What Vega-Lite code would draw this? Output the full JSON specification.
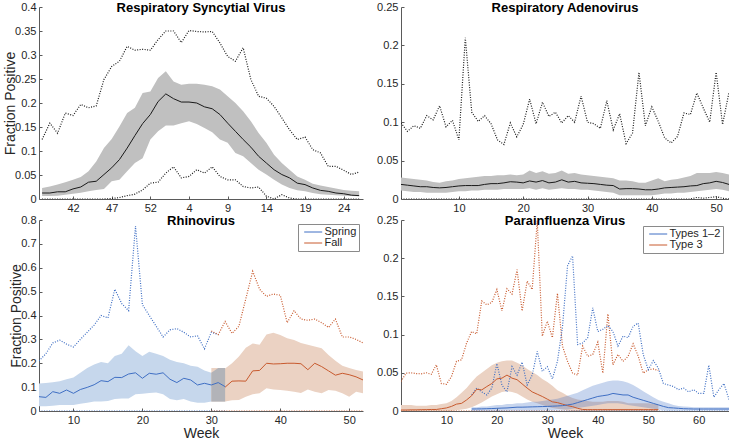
{
"$schema": "https://vega.github.io/schema/vega-lite/v6.json",
"background": "white",
"padding": {"left": 3, "top": 1, "right": 0, "bottom": 0},
"columns": 2,
"spacing": {"row": 21, "column": 38},
"bounds": "flush",
"resolve": {"scale": {"x": "independent", "y": "independent", "color": "independent"}, "legend": {"color": "independent"}},
"config": {
  "font": "Liberation Sans",
  "view": {"stroke": null},
  "axis": {"grid": false, "domainColor": "#5a5a5a", "domainWidth": 1, "tickColor": "#5a5a5a", "tickSize": -3, "labelFontSize": 11, "labelColor": "#262626", "labelPadding": 6, "labelFlush": false, "labelOverlap": false, "titleFontSize": 14, "titleFontWeight": "normal", "titleColor": "#262626", "titlePadding": 2},
  "axisX": {"labelPadding": 6, "titlePadding": 1},
  "axisY": {"titlePadding": -3},
  "title": {"fontSize": 13, "fontWeight": "bold", "color": "#000000", "offset": -14, "frame": "group", "anchor": "middle"},
  "legend": {"orient": "top-right", "offset": 4, "symbolType": "M-0.4,0H3.6", "symbolSize": 81, "symbolStrokeWidth": 1, "labelFontSize": 11, "labelColor": "#262626", "strokeColor": "#8a8a8a", "fillColor": "white", "padding": 2.5, "rowPadding": -2, "labelOffset": 13}
},
"datasets": {
"rsv": [
{"t":38,"mean":0.0125,"lo":0.006,"hi":0.023,"max":0.124,"min":0},
{"t":39,"mean":0.0125,"lo":0.006,"hi":0.026,"max":0.158,"min":0},
{"t":40,"mean":0.015,"lo":0.007,"hi":0.03,"max":0.137,"min":0},
{"t":41,"mean":0.015,"lo":0.009,"hi":0.035,"max":0.179,"min":0},
{"t":42,"mean":0.021,"lo":0.011,"hi":0.04,"max":0.174,"min":0},
{"t":43,"mean":0.025,"lo":0.013,"hi":0.046,"max":0.197,"min":0},
{"t":44,"mean":0.035,"lo":0.016,"hi":0.058,"max":0.19,"min":0},
{"t":45,"mean":0.037,"lo":0.019,"hi":0.078,"max":0.194,"min":0},
{"t":46,"mean":0.051,"lo":0.021,"hi":0.106,"max":0.249,"min":0},
{"t":47,"mean":0.065,"lo":0.037,"hi":0.125,"max":0.276,"min":0.001},
{"t":48,"mean":0.082,"lo":0.04,"hi":0.151,"max":0.287,"min":0.003},
{"t":49,"mean":0.106,"lo":0.058,"hi":0.179,"max":0.318,"min":0.007},
{"t":50,"mean":0.132,"lo":0.075,"hi":0.19,"max":0.31,"min":0.01},
{"t":51,"mean":0.157,"lo":0.085,"hi":0.221,"max":0.312,"min":0.019},
{"t":52,"mean":0.176,"lo":0.124,"hi":0.224,"max":0.31,"min":0.033},
{"t":53,"mean":0.203,"lo":0.141,"hi":0.252,"max":0.332,"min":0.035},
{"t":54,"mean":0.219,"lo":0.153,"hi":0.266,"max":0.35,"min":0.054},
{"t":55,"mean":0.209,"lo":0.153,"hi":0.245,"max":0.35,"min":0.067},
{"t":56,"mean":0.202,"lo":0.158,"hi":0.238,"max":0.326,"min":0.044},
{"t":57,"mean":0.202,"lo":0.162,"hi":0.24,"max":0.351,"min":0.047},
{"t":58,"mean":0.2,"lo":0.156,"hi":0.24,"max":0.349,"min":0.061},
{"t":59,"mean":0.192,"lo":0.148,"hi":0.238,"max":0.348,"min":0.054},
{"t":60,"mean":0.188,"lo":0.139,"hi":0.235,"max":0.349,"min":0.067},
{"t":61,"mean":0.176,"lo":0.124,"hi":0.228,"max":0.325,"min":0.047},
{"t":62,"mean":0.158,"lo":0.117,"hi":0.214,"max":0.297,"min":0.04},
{"t":63,"mean":0.141,"lo":0.096,"hi":0.2,"max":0.287,"min":0.04},
{"t":64,"mean":0.124,"lo":0.089,"hi":0.183,"max":0.315,"min":0.026},
{"t":65,"mean":0.108,"lo":0.075,"hi":0.162,"max":0.249,"min":0.023},
{"t":66,"mean":0.089,"lo":0.061,"hi":0.1375,"max":0.214,"min":0.025},
{"t":67,"mean":0.075,"lo":0.051,"hi":0.117,"max":0.21,"min":0.006},
{"t":68,"mean":0.061,"lo":0.04,"hi":0.092,"max":0.193,"min":0},
{"t":69,"mean":0.051,"lo":0.03,"hi":0.075,"max":0.169,"min":0.009},
{"t":70,"mean":0.044,"lo":0.023,"hi":0.061,"max":0.144,"min":0.002},
{"t":71,"mean":0.033,"lo":0.018,"hi":0.047,"max":0.124,"min":0},
{"t":72,"mean":0.03,"lo":0.016,"hi":0.04,"max":0.129,"min":0},
{"t":73,"mean":0.023,"lo":0.0125,"hi":0.032,"max":0.103,"min":0},
{"t":74,"mean":0.018,"lo":0.01,"hi":0.028,"max":0.096,"min":0},
{"t":75,"mean":0.016,"lo":0.009,"hi":0.025,"max":0.068,"min":0},
{"t":76,"mean":0.0125,"lo":0.008,"hi":0.022,"max":0.068,"min":0},
{"t":77,"mean":0.011,"lo":0.007,"hi":0.019,"max":0.06,"min":0},
{"t":78,"mean":0.008,"lo":0.006,"hi":0.017,"max":0.051,"min":0},
{"t":79,"mean":0.007,"lo":0.0056,"hi":0.016,"max":0.056,"min":0}
],
"adeno": [
{"week":1,"mean":0.019,"lo":0.011,"hi":0.028,"max":0.099,"min":0},
{"week":2,"mean":0.018,"lo":0.01,"hi":0.027,"max":0.088,"min":0},
{"week":3,"mean":0.017,"lo":0.009,"hi":0.026,"max":0.0955,"min":0},
{"week":4,"mean":0.016,"lo":0.009,"hi":0.025,"max":0.092,"min":0},
{"week":5,"mean":0.016,"lo":0.008,"hi":0.024,"max":0.1085,"min":0},
{"week":6,"mean":0.015,"lo":0.008,"hi":0.022,"max":0.103,"min":0},
{"week":7,"mean":0.0145,"lo":0.008,"hi":0.021,"max":0.1215,"min":0},
{"week":8,"mean":0.015,"lo":0.008,"hi":0.023,"max":0.094,"min":0},
{"week":9,"mean":0.016,"lo":0.009,"hi":0.024,"max":0.1025,"min":0},
{"week":10,"mean":0.017,"lo":0.01,"hi":0.026,"max":0.077,"min":0},
{"week":11,"mean":0.0175,"lo":0.01,"hi":0.027,"max":0.21,"min":0},
{"week":12,"mean":0.0175,"lo":0.011,"hi":0.028,"max":0.113,"min":0},
{"week":13,"mean":0.0175,"lo":0.011,"hi":0.029,"max":0.101,"min":0},
{"week":14,"mean":0.019,"lo":0.012,"hi":0.03,"max":0.1085,"min":0},
{"week":15,"mean":0.02,"lo":0.012,"hi":0.03,"max":0.098,"min":0},
{"week":16,"mean":0.02,"lo":0.012,"hi":0.031,"max":0.077,"min":0},
{"week":17,"mean":0.021,"lo":0.013,"hi":0.031,"max":0.071,"min":0},
{"week":18,"mean":0.0225,"lo":0.013,"hi":0.032,"max":0.099,"min":0},
{"week":19,"mean":0.022,"lo":0.013,"hi":0.031,"max":0.081,"min":0},
{"week":20,"mean":0.021,"lo":0.013,"hi":0.032,"max":0.097,"min":0},
{"week":21,"mean":0.0235,"lo":0.014,"hi":0.037,"max":0.13,"min":0},
{"week":22,"mean":0.022,"lo":0.012,"hi":0.034,"max":0.098,"min":0},
{"week":23,"mean":0.024,"lo":0.014,"hi":0.036,"max":0.126,"min":0},
{"week":24,"mean":0.021,"lo":0.012,"hi":0.033,"max":0.1075,"min":0},
{"week":25,"mean":0.022,"lo":0.013,"hi":0.034,"max":0.113,"min":0},
{"week":26,"mean":0.025,"lo":0.014,"hi":0.037,"max":0.099,"min":0},
{"week":27,"mean":0.022,"lo":0.013,"hi":0.033,"max":0.1085,"min":0},
{"week":28,"mean":0.023,"lo":0.013,"hi":0.034,"max":0.1,"min":0},
{"week":29,"mean":0.021,"lo":0.012,"hi":0.032,"max":0.134,"min":0},
{"week":30,"mean":0.0205,"lo":0.012,"hi":0.031,"max":0.1,"min":0},
{"week":31,"mean":0.02,"lo":0.011,"hi":0.03,"max":0.098,"min":0},
{"week":32,"mean":0.019,"lo":0.01,"hi":0.029,"max":0.092,"min":0},
{"week":33,"mean":0.018,"lo":0.009,"hi":0.028,"max":0.128,"min":0},
{"week":34,"mean":0.0175,"lo":0.008,"hi":0.027,"max":0.09,"min":0},
{"week":35,"mean":0.013,"lo":0.005,"hi":0.024,"max":0.111,"min":0},
{"week":36,"mean":0.0135,"lo":0.005,"hi":0.024,"max":0.072,"min":0},
{"week":37,"mean":0.0135,"lo":0.005,"hi":0.023,"max":0.086,"min":0},
{"week":38,"mean":0.013,"lo":0.005,"hi":0.021,"max":0.165,"min":0},
{"week":39,"mean":0.012,"lo":0.005,"hi":0.021,"max":0.0955,"min":0},
{"week":40,"mean":0.012,"lo":0.005,"hi":0.024,"max":0.12,"min":0},
{"week":41,"mean":0.013,"lo":0.006,"hi":0.027,"max":0.101,"min":0},
{"week":42,"mean":0.0145,"lo":0.007,"hi":0.023,"max":0.0795,"min":0},
{"week":43,"mean":0.015,"lo":0.007,"hi":0.025,"max":0.073,"min":0},
{"week":44,"mean":0.0155,"lo":0.008,"hi":0.026,"max":0.0815,"min":0},
{"week":45,"mean":0.016,"lo":0.008,"hi":0.028,"max":0.112,"min":0},
{"week":46,"mean":0.017,"lo":0.009,"hi":0.03,"max":0.11,"min":0},
{"week":47,"mean":0.0175,"lo":0.01,"hi":0.034,"max":0.138,"min":0.002},
{"week":48,"mean":0.02,"lo":0.011,"hi":0.034,"max":0.1185,"min":0.001},
{"week":49,"mean":0.021,"lo":0.012,"hi":0.034,"max":0.1,"min":0.002},
{"week":50,"mean":0.023,"lo":0.013,"hi":0.035,"max":0.165,"min":0.003},
{"week":51,"mean":0.0215,"lo":0.012,"hi":0.034,"max":0.097,"min":0.001},
{"week":52,"mean":0.019,"lo":0.01,"hi":0.032,"max":0.139,"min":0}
],
"rhino": [
{"week":5,"season":"Spring","mean":0.06,"lo":0.02,"hi":0.115,"max":0.21,"min":0},
{"week":6,"season":"Spring","mean":0.057,"lo":0.02,"hi":0.117,"max":0.24,"min":0},
{"week":7,"season":"Spring","mean":0.081,"lo":0.022,"hi":0.12,"max":0.285,"min":0},
{"week":8,"season":"Spring","mean":0.074,"lo":0.025,"hi":0.125,"max":0.297,"min":0},
{"week":9,"season":"Spring","mean":0.088,"lo":0.025,"hi":0.133,"max":0.28,"min":0},
{"week":10,"season":"Spring","mean":0.074,"lo":0.025,"hi":0.14,"max":0.268,"min":0},
{"week":11,"season":"Spring","mean":0.09,"lo":0.03,"hi":0.16,"max":0.3,"min":0},
{"week":12,"season":"Spring","mean":0.099,"lo":0.035,"hi":0.18,"max":0.33,"min":0},
{"week":13,"season":"Spring","mean":0.11,"lo":0.04,"hi":0.195,"max":0.36,"min":0},
{"week":14,"season":"Spring","mean":0.127,"lo":0.04,"hi":0.205,"max":0.4,"min":0},
{"week":15,"season":"Spring","mean":0.123,"lo":0.042,"hi":0.2,"max":0.39,"min":0},
{"week":16,"season":"Spring","mean":0.141,"lo":0.05,"hi":0.23,"max":0.51,"min":0},
{"week":17,"season":"Spring","mean":0.14,"lo":0.052,"hi":0.24,"max":0.45,"min":0},
{"week":18,"season":"Spring","mean":0.155,"lo":0.052,"hi":0.275,"max":0.42,"min":0},
{"week":19,"season":"Spring","mean":0.16,"lo":0.07,"hi":0.25,"max":0.775,"min":0},
{"week":20,"season":"Spring","mean":0.137,"lo":0.072,"hi":0.23,"max":0.445,"min":0},
{"week":21,"season":"Spring","mean":0.158,"lo":0.075,"hi":0.248,"max":0.4,"min":0},
{"week":22,"season":"Spring","mean":0.154,"lo":0.077,"hi":0.24,"max":0.355,"min":0},
{"week":23,"season":"Spring","mean":0.16,"lo":0.07,"hi":0.23,"max":0.31,"min":0},
{"week":24,"season":"Spring","mean":0.133,"lo":0.05,"hi":0.215,"max":0.34,"min":0},
{"week":25,"season":"Spring","mean":0.119,"lo":0.045,"hi":0.205,"max":0.345,"min":0},
{"week":26,"season":"Spring","mean":0.137,"lo":0.05,"hi":0.2,"max":0.33,"min":0},
{"week":27,"season":"Spring","mean":0.13,"lo":0.04,"hi":0.19,"max":0.31,"min":0},
{"week":28,"season":"Spring","mean":0.109,"lo":0.035,"hi":0.185,"max":0.315,"min":0},
{"week":29,"season":"Spring","mean":0.116,"lo":0.035,"hi":0.17,"max":0.26,"min":0},
{"week":30,"season":"Spring","mean":0.109,"lo":0.04,"hi":0.16,"max":0.33,"min":0},
{"week":31,"season":"Spring","mean":0.119,"lo":0.04,"hi":0.18,"max":0.32,"min":0},
{"week":32,"season":"Spring","mean":0.102,"lo":0.04,"hi":0.18,"max":null,"min":0},
{"week":30,"season":"Fall","mean":null,"lo":0.04,"hi":0.18,"max":0.335,"min":0},
{"week":31,"season":"Fall","mean":null,"lo":0.04,"hi":0.18,"max":0.32,"min":0},
{"week":32,"season":"Fall","mean":0.1,"lo":0.04,"hi":0.178,"max":0.375,"min":0},
{"week":33,"season":"Fall","mean":0.125,"lo":0.045,"hi":0.2,"max":0.325,"min":0},
{"week":34,"season":"Fall","mean":0.126,"lo":0.046,"hi":0.228,"max":0.355,"min":0},
{"week":35,"season":"Fall","mean":0.125,"lo":0.06,"hi":0.265,"max":0.47,"min":0},
{"week":36,"season":"Fall","mean":0.168,"lo":0.07,"hi":0.283,"max":0.585,"min":0},
{"week":37,"season":"Fall","mean":0.17,"lo":0.074,"hi":0.277,"max":0.51,"min":0},
{"week":38,"season":"Fall","mean":0.2,"lo":0.095,"hi":0.32,"max":0.48,"min":0},
{"week":39,"season":"Fall","mean":0.197,"lo":0.09,"hi":0.328,"max":0.49,"min":0},
{"week":40,"season":"Fall","mean":0.198,"lo":0.088,"hi":0.318,"max":0.485,"min":0},
{"week":41,"season":"Fall","mean":0.2,"lo":0.085,"hi":0.305,"max":0.37,"min":0},
{"week":42,"season":"Fall","mean":0.2,"lo":0.081,"hi":0.297,"max":0.42,"min":0},
{"week":43,"season":"Fall","mean":0.198,"lo":0.075,"hi":0.285,"max":0.385,"min":0},
{"week":44,"season":"Fall","mean":0.173,"lo":0.09,"hi":0.277,"max":0.38,"min":0},
{"week":45,"season":"Fall","mean":0.2,"lo":0.081,"hi":0.27,"max":0.385,"min":0},
{"week":46,"season":"Fall","mean":0.186,"lo":0.074,"hi":0.263,"max":0.37,"min":0},
{"week":47,"season":"Fall","mean":0.168,"lo":0.088,"hi":0.235,"max":0.35,"min":0},
{"week":48,"season":"Fall","mean":0.15,"lo":0.085,"hi":0.21,"max":0.385,"min":0},
{"week":49,"season":"Fall","mean":0.158,"lo":0.074,"hi":0.19,"max":0.31,"min":0},
{"week":50,"season":"Fall","mean":0.152,"lo":0.06,"hi":0.18,"max":0.31,"min":0},
{"week":51,"season":"Fall","mean":0.143,"lo":0.081,"hi":0.172,"max":0.3,"min":0},
{"week":52,"season":"Fall","mean":0.13,"lo":0.074,"hi":0.165,"max":0.285,"min":0}
],
"para": [
{"week":1,"group":"Type 3","mean":0.0013,"lo":0,"hi":0.008,"max":0.0386,"min":0},
{"week":2,"group":"Type 3","mean":0.0013,"lo":0,"hi":0.008,"max":0.0496,"min":0},
{"week":3,"group":"Type 3","mean":0.0015,"lo":0,"hi":0.008,"max":0.05,"min":0},
{"week":4,"group":"Type 3","mean":0.0015,"lo":0,"hi":0.007,"max":0.049,"min":0},
{"week":5,"group":"Type 3","mean":0.0017,"lo":0,"hi":0.007,"max":0.0487,"min":0},
{"week":6,"group":"Type 3","mean":0.0018,"lo":0,"hi":0.007,"max":0.05,"min":0},
{"week":7,"group":"Type 3","mean":0.002,"lo":0,"hi":0.008,"max":0.048,"min":0},
{"week":8,"group":"Type 3","mean":0.002,"lo":0,"hi":0.008,"max":0.0605,"min":0},
{"week":9,"group":"Type 3","mean":0.003,"lo":0,"hi":0.009,"max":0.036,"min":0},
{"week":10,"group":"Type 3","mean":0.004,"lo":0,"hi":0.01,"max":0.035,"min":0},
{"week":11,"group":"Type 3","mean":0.006,"lo":0,"hi":0.013,"max":0.045,"min":0},
{"week":12,"group":"Type 3","mean":0.009,"lo":0.001,"hi":0.018,"max":0.065,"min":0},
{"week":13,"group":"Type 3","mean":0.01,"lo":0.002,"hi":0.024,"max":0.067,"min":0},
{"week":14,"group":"Type 3","mean":0.0145,"lo":0.003,"hi":0.03,"max":0.089,"min":0},
{"week":15,"group":"Type 3","mean":0.02,"lo":0.005,"hi":0.038,"max":0.104,"min":0},
{"week":16,"group":"Type 3","mean":0.0285,"lo":0.008,"hi":0.045,"max":0.101,"min":0},
{"week":17,"group":"Type 3","mean":0.0276,"lo":0.011,"hi":0.05,"max":0.144,"min":0},
{"week":18,"group":"Type 3","mean":0.032,"lo":0.015,"hi":0.055,"max":0.139,"min":0},
{"week":19,"group":"Type 3","mean":0.036,"lo":0.019,"hi":0.06,"max":0.142,"min":0},
{"week":20,"group":"Type 3","mean":0.042,"lo":0.022,"hi":0.063,"max":0.159,"min":0},
{"week":21,"group":"Type 3","mean":0.043,"lo":0.025,"hi":0.065,"max":0.131,"min":0},
{"week":22,"group":"Type 3","mean":0.047,"lo":0.026,"hi":0.066,"max":0.16,"min":0},
{"week":23,"group":"Type 3","mean":0.043,"lo":0.025,"hi":0.066,"max":0.153,"min":0},
{"week":24,"group":"Type 3","mean":0.041,"lo":0.023,"hi":0.063,"max":0.185,"min":0},
{"week":25,"group":"Type 3","mean":0.0355,"lo":0.019,"hi":0.06,"max":0.131,"min":0},
{"week":26,"group":"Type 3","mean":0.03,"lo":0.015,"hi":0.055,"max":0.17,"min":0},
{"week":27,"group":"Type 3","mean":0.025,"lo":0.012,"hi":0.051,"max":0.159,"min":0},
{"week":28,"group":"Type 3","mean":0.022,"lo":0.01,"hi":0.047,"max":0.249,"min":0},
{"week":29,"group":"Type 3","mean":0.019,"lo":0.008,"hi":0.042,"max":0.098,"min":0},
{"week":30,"group":"Type 3","mean":0.0155,"lo":0.006,"hi":0.038,"max":0.1175,"min":0},
{"week":31,"group":"Type 3","mean":0.012,"lo":0.004,"hi":0.033,"max":0.096,"min":0},
{"week":32,"group":"Type 3","mean":0.011,"lo":0.003,"hi":0.027,"max":0.154,"min":0},
{"week":33,"group":"Type 3","mean":0.009,"lo":0.002,"hi":0.024,"max":0.085,"min":0},
{"week":34,"group":"Type 3","mean":0.007,"lo":0.001,"hi":0.02,"max":0.065,"min":0},
{"week":35,"group":"Type 3","mean":0.0057,"lo":0,"hi":0.017,"max":0.0496,"min":0},
{"week":36,"group":"Type 3","mean":0.0035,"lo":0,"hi":0.015,"max":0.047,"min":0},
{"week":37,"group":"Type 3","mean":0.002,"lo":0,"hi":0.014,"max":0.085,"min":0},
{"week":38,"group":"Type 3","mean":0.0018,"lo":0,"hi":0.013,"max":0.0715,"min":0},
{"week":39,"group":"Type 3","mean":0.0018,"lo":0,"hi":0.012,"max":0.074,"min":0},
{"week":40,"group":"Type 3","mean":0.0018,"lo":0,"hi":0.012,"max":0.09,"min":0},
{"week":41,"group":"Type 3","mean":0.0018,"lo":0,"hi":0.012,"max":0.0496,"min":0},
{"week":42,"group":"Type 3","mean":0.0018,"lo":0,"hi":0.013,"max":0.127,"min":0},
{"week":43,"group":"Type 3","mean":0.0018,"lo":0,"hi":0.013,"max":0.0605,"min":0},
{"week":44,"group":"Type 3","mean":0.0018,"lo":0,"hi":0.013,"max":0.074,"min":0},
{"week":45,"group":"Type 3","mean":0.0018,"lo":0,"hi":0.012,"max":0.065,"min":0},
{"week":46,"group":"Type 3","mean":0.0018,"lo":0,"hi":0.01,"max":0.0715,"min":0},
{"week":47,"group":"Type 3","mean":0.0018,"lo":0,"hi":0.01,"max":0.088,"min":0},
{"week":48,"group":"Type 3","mean":0.0018,"lo":0,"hi":0.01,"max":0.072,"min":0},
{"week":49,"group":"Type 3","mean":0.0018,"lo":0,"hi":0.01,"max":0.0496,"min":0},
{"week":50,"group":"Type 3","mean":0.0018,"lo":0,"hi":0.01,"max":0.054,"min":0},
{"week":51,"group":"Type 3","mean":0.0018,"lo":0,"hi":0.009,"max":0.055,"min":0},
{"week":52,"group":"Type 3","mean":0.0018,"lo":0,"hi":0.009,"max":0.053,"min":0},
{"week":15,"group":"Types 1–2","mean":0.0026,"lo":0.0005,"hi":0.005,"max":0.021,"min":0},
{"week":16,"group":"Types 1–2","mean":0.0027,"lo":0.0005,"hi":0.005,"max":0.03,"min":0},
{"week":17,"group":"Types 1–2","mean":0.0028,"lo":0.0005,"hi":0.006,"max":0.025,"min":0},
{"week":18,"group":"Types 1–2","mean":0.003,"lo":0.0005,"hi":0.006,"max":0.021,"min":0},
{"week":19,"group":"Types 1–2","mean":0.0032,"lo":0.0006,"hi":0.007,"max":0.03,"min":0},
{"week":20,"group":"Types 1–2","mean":0.0035,"lo":0.0007,"hi":0.008,"max":0.062,"min":0},
{"week":21,"group":"Types 1–2","mean":0.0038,"lo":0.0008,"hi":0.008,"max":0.034,"min":0},
{"week":22,"group":"Types 1–2","mean":0.004,"lo":0.0009,"hi":0.009,"max":0.025,"min":0},
{"week":23,"group":"Types 1–2","mean":0.0045,"lo":0.001,"hi":0.009,"max":0.058,"min":0},
{"week":24,"group":"Types 1–2","mean":0.005,"lo":0.001,"hi":0.01,"max":0.047,"min":0},
{"week":25,"group":"Types 1–2","mean":0.005,"lo":0.001,"hi":0.01,"max":0.064,"min":0},
{"week":26,"group":"Types 1–2","mean":0.0052,"lo":0.001,"hi":0.011,"max":0.034,"min":0},
{"week":27,"group":"Types 1–2","mean":0.0054,"lo":0.001,"hi":0.012,"max":0.047,"min":0},
{"week":28,"group":"Types 1–2","mean":0.0056,"lo":0.001,"hi":0.012,"max":0.078,"min":0},
{"week":29,"group":"Types 1–2","mean":0.0058,"lo":0.0012,"hi":0.013,"max":0.052,"min":0},
{"week":30,"group":"Types 1–2","mean":0.006,"lo":0.0013,"hi":0.014,"max":0.058,"min":0},
{"week":31,"group":"Types 1–2","mean":0.0063,"lo":0.0014,"hi":0.015,"max":0.042,"min":0},
{"week":32,"group":"Types 1–2","mean":0.0066,"lo":0.0015,"hi":0.016,"max":0.065,"min":0},
{"week":33,"group":"Types 1–2","mean":0.007,"lo":0.0018,"hi":0.018,"max":0.11,"min":0},
{"week":34,"group":"Types 1–2","mean":0.008,"lo":0.002,"hi":0.02,"max":0.19,"min":0},
{"week":35,"group":"Types 1–2","mean":0.009,"lo":0.003,"hi":0.022,"max":0.203,"min":0},
{"week":36,"group":"Types 1–2","mean":0.011,"lo":0.004,"hi":0.024,"max":0.087,"min":0},
{"week":37,"group":"Types 1–2","mean":0.013,"lo":0.005,"hi":0.027,"max":0.089,"min":0},
{"week":38,"group":"Types 1–2","mean":0.015,"lo":0.006,"hi":0.03,"max":0.096,"min":0},
{"week":39,"group":"Types 1–2","mean":0.017,"lo":0.007,"hi":0.033,"max":0.135,"min":0},
{"week":40,"group":"Types 1–2","mean":0.019,"lo":0.008,"hi":0.035,"max":0.104,"min":0},
{"week":41,"group":"Types 1–2","mean":0.02,"lo":0.009,"hi":0.037,"max":0.107,"min":0},
{"week":42,"group":"Types 1–2","mean":0.021,"lo":0.01,"hi":0.039,"max":0.112,"min":0},
{"week":43,"group":"Types 1–2","mean":0.023,"lo":0.01,"hi":0.04,"max":0.104,"min":0},
{"week":44,"group":"Types 1–2","mean":0.022,"lo":0.01,"hi":0.04,"max":0.085,"min":0},
{"week":45,"group":"Types 1–2","mean":0.021,"lo":0.009,"hi":0.039,"max":0.098,"min":0},
{"week":46,"group":"Types 1–2","mean":0.021,"lo":0.008,"hi":0.037,"max":0.096,"min":0},
{"week":47,"group":"Types 1–2","mean":0.018,"lo":0.007,"hi":0.034,"max":0.111,"min":0},
{"week":48,"group":"Types 1–2","mean":0.016,"lo":0.006,"hi":0.03,"max":0.115,"min":0},
{"week":49,"group":"Types 1–2","mean":0.014,"lo":0.005,"hi":0.026,"max":0.074,"min":0},
{"week":50,"group":"Types 1–2","mean":0.012,"lo":0.004,"hi":0.022,"max":0.054,"min":0},
{"week":51,"group":"Types 1–2","mean":0.01,"lo":0.003,"hi":0.018,"max":0.066,"min":0},
{"week":52,"group":"Types 1–2","mean":0.008,"lo":0.002,"hi":0.0145,"max":0.056,"min":0},
{"week":53,"group":"Types 1–2","mean":0.006,"lo":0.001,"hi":0.012,"max":0.036,"min":0},
{"week":54,"group":"Types 1–2","mean":0.0044,"lo":0.0007,"hi":0.01,"max":0.034,"min":0},
{"week":55,"group":"Types 1–2","mean":0.004,"lo":0.0005,"hi":0.008,"max":0.032,"min":0},
{"week":56,"group":"Types 1–2","mean":0.0035,"lo":0.0005,"hi":0.0065,"max":0.028,"min":0},
{"week":57,"group":"Types 1–2","mean":0.003,"lo":0.0005,"hi":0.006,"max":0.03,"min":0},
{"week":58,"group":"Types 1–2","mean":0.0028,"lo":0.0005,"hi":0.0055,"max":0.025,"min":0},
{"week":59,"group":"Types 1–2","mean":0.0026,"lo":0.0005,"hi":0.005,"max":0.028,"min":0},
{"week":60,"group":"Types 1–2","mean":0.0026,"lo":0.0005,"hi":0.005,"max":0.023,"min":0},
{"week":61,"group":"Types 1–2","mean":0.0026,"lo":0.0005,"hi":0.005,"max":0.023,"min":0},
{"week":62,"group":"Types 1–2","mean":0.0026,"lo":0.0005,"hi":0.005,"max":0.06,"min":0},
{"week":63,"group":"Types 1–2","mean":0.0026,"lo":0.0005,"hi":0.005,"max":0.018,"min":0},
{"week":64,"group":"Types 1–2","mean":0.0026,"lo":0.0005,"hi":0.005,"max":0.028,"min":0},
{"week":65,"group":"Types 1–2","mean":0.0026,"lo":0.0005,"hi":0.005,"max":0.036,"min":0},
{"week":66,"group":"Types 1–2","mean":0.0026,"lo":0.0005,"hi":0.005,"max":0.015,"min":0}
]
},
"concat": [
{
  "width": 324, "height": 192,
  "title": {"text": "Respiratory Syncytial Virus"},
  "data": {"name": "rsv"},
  "encoding": {
    "x": {"field": "t", "type": "quantitative", "title": null, "scale": {"domain": [37.6, 79.5], "nice": false, "zero": false}, "axis": {"values": [42, 47, 52, 57, 62, 67, 72, 77], "labelOverlap": false, "labelExpr": "datum.value > 53 ? datum.value - 53 : datum.value"}}
  },
  "layer": [
    {"mark": {"type": "area", "color": "#c0c0c0", "clip": true},
     "encoding": {
       "y": {"field": "lo", "type": "quantitative", "title": "Fraction Positive", "scale": {"domain": [0, 0.4], "nice": false}, "axis": {"values": [0, 0.05, 0.1, 0.15, 0.2, 0.25, 0.3, 0.35, 0.4], "labelOverlap": false, "format": "~g"}},
       "y2": {"field": "hi"}}},
    {"mark": {"type": "line", "color": "#1a1a1a", "strokeWidth": 1, "clip": true},
     "encoding": {"y": {"field": "mean", "type": "quantitative", "title": "Fraction Positive", "scale": {"domain": [0, 0.4], "nice": false}, "axis": {"values": [0, 0.05, 0.1, 0.15, 0.2, 0.25, 0.3, 0.35, 0.4], "labelOverlap": false, "format": "~g"}}}},
    {"mark": {"type": "line", "color": "#1a1a1a", "strokeWidth": 1.2, "strokeDash": [1, 1.5], "clip": true},
     "encoding": {"y": {"field": "max", "type": "quantitative", "title": "Fraction Positive", "scale": {"domain": [0, 0.4], "nice": false}, "axis": {"values": [0, 0.05, 0.1, 0.15, 0.2, 0.25, 0.3, 0.35, 0.4], "labelOverlap": false, "format": "~g"}}}},
    {"mark": {"type": "line", "color": "#1a1a1a", "strokeWidth": 1.2, "strokeDash": [1, 1.5], "clip": true},
     "encoding": {"y": {"field": "min", "type": "quantitative", "title": "Fraction Positive", "scale": {"domain": [0, 0.4], "nice": false}, "axis": {"values": [0, 0.05, 0.1, 0.15, 0.2, 0.25, 0.3, 0.35, 0.4], "labelOverlap": false, "format": "~g"}}}}
  ]
},
{
  "width": 328, "height": 192,
  "title": {"text": "Respiratory Adenovirus"},
  "data": {"name": "adeno"},
  "encoding": {
    "x": {"field": "week", "type": "quantitative", "title": null, "scale": {"domain": [1, 52], "nice": false, "zero": false}, "axis": {"values": [10, 20, 30, 40, 50], "labelOverlap": false}}
  },
  "layer": [
    {"mark": {"type": "area", "color": "#c0c0c0", "clip": true},
     "encoding": {
       "y": {"field": "lo", "type": "quantitative", "title": null, "scale": {"domain": [0, 0.25], "nice": false}, "axis": {"values": [0, 0.05, 0.1, 0.15, 0.2, 0.25], "labelOverlap": false, "format": "~g"}},
       "y2": {"field": "hi"}}},
    {"mark": {"type": "line", "color": "#1a1a1a", "strokeWidth": 1, "clip": true},
     "encoding": {"y": {"field": "mean", "type": "quantitative", "title": null, "scale": {"domain": [0, 0.25], "nice": false}, "axis": {"values": [0, 0.05, 0.1, 0.15, 0.2, 0.25], "labelOverlap": false, "format": "~g"}}}},
    {"mark": {"type": "line", "color": "#1a1a1a", "strokeWidth": 1.2, "strokeDash": [1, 1.5], "clip": true},
     "encoding": {"y": {"field": "max", "type": "quantitative", "title": null, "scale": {"domain": [0, 0.25], "nice": false}, "axis": {"values": [0, 0.05, 0.1, 0.15, 0.2, 0.25], "labelOverlap": false, "format": "~g"}}}},
    {"mark": {"type": "line", "color": "#1a1a1a", "strokeWidth": 1.2, "strokeDash": [1, 1.5], "clip": true},
     "encoding": {"y": {"field": "min", "type": "quantitative", "title": null, "scale": {"domain": [0, 0.25], "nice": false}, "axis": {"values": [0, 0.05, 0.1, 0.15, 0.2, 0.25], "labelOverlap": false, "format": "~g"}}}}
  ]
},
{
  "width": 324, "height": 191,
  "title": {"text": "Rhinovirus"},
  "data": {"name": "rhino"},
  "encoding": {
    "x": {"field": "week", "type": "quantitative", "title": "Week", "scale": {"domain": [5, 52], "nice": false, "zero": false}, "axis": {"values": [10, 20, 30, 40, 50], "labelOverlap": false}}
  },
  "layer": [
    {"transform": [{"filter": {"field": "season", "equal": "Spring"}}],
     "mark": {"type": "area", "color": "#c6d7ec", "clip": true},
     "encoding": {
       "y": {"field": "lo", "type": "quantitative", "title": "Fraction Positive", "scale": {"domain": [0, 0.8], "nice": false}, "axis": {"values": [0, 0.1, 0.2, 0.3, 0.4, 0.5, 0.6, 0.7, 0.8], "labelOverlap": false, "format": "~g"}},
       "y2": {"field": "hi"}}},
    {"transform": [{"filter": {"field": "season", "equal": "Fall"}}],
     "mark": {"type": "area", "color": "#ebd2c3", "clip": true},
     "encoding": {"y": {"field": "lo", "type": "quantitative", "title": "Fraction Positive", "scale": {"domain": [0, 0.8], "nice": false}, "axis": {"values": [0, 0.1, 0.2, 0.3, 0.4, 0.5, 0.6, 0.7, 0.8], "labelOverlap": false, "format": "~g"}}, "y2": {"field": "hi"}}},
    {"transform": [{"filter": {"and": [{"field": "season", "equal": "Spring"}, {"field": "week", "gte": 30}]}}],
     "mark": {"type": "area", "color": "#b2b3b8", "clip": true},
     "encoding": {"y": {"field": "lo", "type": "quantitative", "title": "Fraction Positive", "scale": {"domain": [0, 0.8], "nice": false}, "axis": {"values": [0, 0.1, 0.2, 0.3, 0.4, 0.5, 0.6, 0.7, 0.8], "labelOverlap": false, "format": "~g"}}, "y2": {"field": "hi"}}},
    {"transform": [{"filter": {"field": "season", "equal": "Spring"}}],
     "mark": {"type": "line", "color": "#3f6fc4", "strokeWidth": 1.2, "strokeDash": [1, 1.5], "clip": true},
     "encoding": {"y": {"field": "max", "type": "quantitative", "title": "Fraction Positive", "scale": {"domain": [0, 0.8], "nice": false}, "axis": {"values": [0, 0.1, 0.2, 0.3, 0.4, 0.5, 0.6, 0.7, 0.8], "labelOverlap": false, "format": "~g"}}}},
    {"transform": [{"filter": {"field": "season", "equal": "Fall"}}],
     "mark": {"type": "line", "color": "#c85a2e", "strokeWidth": 1.2, "strokeDash": [1, 1.5], "clip": true},
     "encoding": {"y": {"field": "max", "type": "quantitative", "title": "Fraction Positive", "scale": {"domain": [0, 0.8], "nice": false}, "axis": {"values": [0, 0.1, 0.2, 0.3, 0.4, 0.5, 0.6, 0.7, 0.8], "labelOverlap": false, "format": "~g"}}}},
    {"transform": [{"filter": {"field": "season", "equal": "Spring"}}],
     "mark": {"type": "line", "color": "#3f6fc4", "strokeWidth": 1.2, "strokeDash": [1, 1.5], "clip": true},
     "encoding": {"y": {"field": "min", "type": "quantitative", "title": "Fraction Positive", "scale": {"domain": [0, 0.8], "nice": false}, "axis": {"values": [0, 0.1, 0.2, 0.3, 0.4, 0.5, 0.6, 0.7, 0.8], "labelOverlap": false, "format": "~g"}}}},
    {"transform": [{"filter": {"field": "season", "equal": "Fall"}}],
     "mark": {"type": "line", "color": "#c85a2e", "strokeWidth": 1.2, "strokeDash": [1, 1.5], "clip": true},
     "encoding": {"y": {"field": "min", "type": "quantitative", "title": "Fraction Positive", "scale": {"domain": [0, 0.8], "nice": false}, "axis": {"values": [0, 0.1, 0.2, 0.3, 0.4, 0.5, 0.6, 0.7, 0.8], "labelOverlap": false, "format": "~g"}}}},
    {"mark": {"type": "line", "strokeWidth": 1, "clip": true},
     "encoding": {"y": {"field": "mean", "type": "quantitative", "title": "Fraction Positive", "scale": {"domain": [0, 0.8], "nice": false}, "axis": {"values": [0, 0.1, 0.2, 0.3, 0.4, 0.5, 0.6, 0.7, 0.8], "labelOverlap": false, "format": "~g"}},
       "color": {"field": "season", "type": "nominal", "scale": {"domain": ["Spring", "Fall"], "range": ["#3f6fc4", "#c85a2e"]}, "legend": {"title": null}}}}
  ]
},
{
  "width": 328, "height": 191,
  "title": {"text": "Parainfluenza Virus"},
  "data": {"name": "para"},
  "encoding": {
    "x": {"field": "week", "type": "quantitative", "title": "Week", "scale": {"domain": [1, 66], "nice": false, "zero": false}, "axis": {"values": [10, 20, 30, 40, 50, 60], "labelOverlap": false}}
  },
  "layer": [
    {"transform": [{"filter": {"field": "group", "equal": "Type 3"}}],
     "mark": {"type": "area", "color": "#ebd2c3", "clip": true},
     "encoding": {
       "y": {"field": "lo", "type": "quantitative", "title": null, "scale": {"domain": [0, 0.25], "nice": false}, "axis": {"values": [0, 0.05, 0.1, 0.15, 0.2, 0.25], "labelOverlap": false, "format": "~g"}},
       "y2": {"field": "hi"}}},
    {"transform": [{"filter": {"field": "group", "equal": "Types 1–2"}}],
     "mark": {"type": "area", "color": "#3f6fc4", "opacity": 0.29, "clip": true},
     "encoding": {"y": {"field": "lo", "type": "quantitative", "title": null, "scale": {"domain": [0, 0.25], "nice": false}, "axis": {"values": [0, 0.05, 0.1, 0.15, 0.2, 0.25], "labelOverlap": false, "format": "~g"}}, "y2": {"field": "hi"}}},
    {"transform": [{"filter": {"field": "group", "equal": "Type 3"}}],
     "mark": {"type": "line", "color": "#c85a2e", "strokeWidth": 1.2, "strokeDash": [1, 1.5], "clip": true},
     "encoding": {"y": {"field": "max", "type": "quantitative", "title": null, "scale": {"domain": [0, 0.25], "nice": false}, "axis": {"values": [0, 0.05, 0.1, 0.15, 0.2, 0.25], "labelOverlap": false, "format": "~g"}}}},
    {"transform": [{"filter": {"field": "group", "equal": "Types 1–2"}}],
     "mark": {"type": "line", "color": "#3f6fc4", "strokeWidth": 1.2, "strokeDash": [1, 1.5], "clip": true},
     "encoding": {"y": {"field": "max", "type": "quantitative", "title": null, "scale": {"domain": [0, 0.25], "nice": false}, "axis": {"values": [0, 0.05, 0.1, 0.15, 0.2, 0.25], "labelOverlap": false, "format": "~g"}}}},
    {"transform": [{"filter": {"field": "group", "equal": "Type 3"}}],
     "mark": {"type": "line", "color": "#c85a2e", "strokeWidth": 1.2, "strokeDash": [1, 1.5], "clip": true},
     "encoding": {"y": {"field": "min", "type": "quantitative", "title": null, "scale": {"domain": [0, 0.25], "nice": false}, "axis": {"values": [0, 0.05, 0.1, 0.15, 0.2, 0.25], "labelOverlap": false, "format": "~g"}}}},
    {"transform": [{"filter": {"field": "group", "equal": "Types 1–2"}}],
     "mark": {"type": "line", "color": "#3f6fc4", "strokeWidth": 1.2, "strokeDash": [1, 1.5], "clip": true},
     "encoding": {"y": {"field": "min", "type": "quantitative", "title": null, "scale": {"domain": [0, 0.25], "nice": false}, "axis": {"values": [0, 0.05, 0.1, 0.15, 0.2, 0.25], "labelOverlap": false, "format": "~g"}}}},
    {"mark": {"type": "line", "strokeWidth": 1, "clip": true},
     "encoding": {"y": {"field": "mean", "type": "quantitative", "title": null, "scale": {"domain": [0, 0.25], "nice": false}, "axis": {"values": [0, 0.05, 0.1, 0.15, 0.2, 0.25], "labelOverlap": false, "format": "~g"}},
       "color": {"field": "group", "type": "nominal", "scale": {"domain": ["Types 1–2", "Type 3"], "range": ["#3f6fc4", "#c85a2e"]}, "legend": {"title": null, "offset": 6}}}}
  ]
}
]
}
